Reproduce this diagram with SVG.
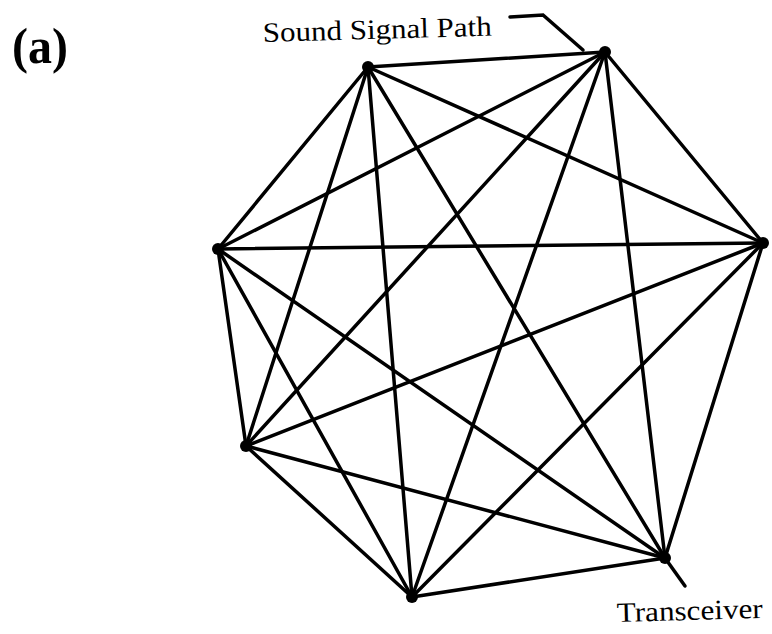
<svg xmlns="http://www.w3.org/2000/svg" width="772" height="634" viewBox="0 0 772 634">
<style>
.e{stroke:#000;stroke-width:3.5;stroke-linecap:round;fill:none}
.n{fill:#000}
.t{font-family:"Liberation Serif","Times New Roman",serif;fill:#000}
</style>
<rect width="772" height="634" fill="#fff"/>
<g id="connectors">
<line class="e" x1="368" y1="67" x2="605" y2="52"/>
<line class="e" x1="368" y1="67" x2="763" y2="243"/>
<line class="e" x1="368" y1="67" x2="218" y2="249"/>
<line class="e" x1="368" y1="67" x2="246" y2="446"/>
<line class="e" x1="368" y1="67" x2="412" y2="597"/>
<line class="e" x1="368" y1="67" x2="665" y2="558"/>
<line class="e" x1="605" y1="52" x2="763" y2="243"/>
<line class="e" x1="605" y1="52" x2="218" y2="249"/>
<line class="e" x1="605" y1="52" x2="246" y2="446"/>
<line class="e" x1="605" y1="52" x2="412" y2="597"/>
<line class="e" x1="605" y1="52" x2="665" y2="558"/>
<line class="e" x1="763" y1="243" x2="218" y2="249"/>
<line class="e" x1="763" y1="243" x2="246" y2="446"/>
<line class="e" x1="763" y1="243" x2="412" y2="597"/>
<line class="e" x1="763" y1="243" x2="665" y2="558"/>
<line class="e" x1="218" y1="249" x2="246" y2="446"/>
<line class="e" x1="218" y1="249" x2="412" y2="597"/>
<line class="e" x1="218" y1="249" x2="665" y2="558"/>
<line class="e" x1="246" y1="446" x2="412" y2="597"/>
<line class="e" x1="246" y1="446" x2="665" y2="558"/>
<line class="e" x1="412" y1="597" x2="665" y2="558"/>
<polyline class="e" points="510,17 543,15 583,50"/>
<line class="e" x1="665" y1="558" x2="685" y2="586"/>
</g>
<g id="node-1"><circle class="n" cx="368" cy="67" r="6"/></g>
<g id="node-2"><circle class="n" cx="605" cy="52" r="6"/></g>
<g id="node-3"><circle class="n" cx="763" cy="243" r="6"/></g>
<g id="node-4"><circle class="n" cx="218" cy="249" r="6"/></g>
<g id="node-5"><circle class="n" cx="246" cy="446" r="6"/></g>
<g id="node-6"><circle class="n" cx="412" cy="597" r="6"/></g>
<g id="node-7"><circle class="n" cx="665" cy="558" r="6"/></g>
<g id="labels">
<text class="t" x="12" y="63" font-size="50" font-weight="bold" textLength="56" lengthAdjust="spacingAndGlyphs">(a)</text>
<text class="t" x="263" y="42" font-size="28" textLength="229" lengthAdjust="spacingAndGlyphs" transform="rotate(-1.6 263 42)">Sound Signal Path</text>
<text class="t" x="617" y="622" font-size="28" textLength="146" lengthAdjust="spacingAndGlyphs" transform="rotate(-1.6 617 622)">Transceiver</text>
</g>
</svg>
